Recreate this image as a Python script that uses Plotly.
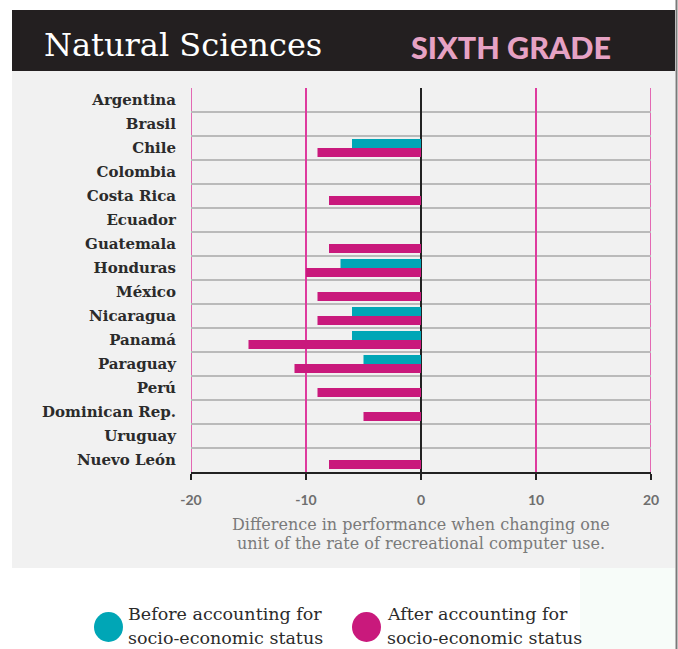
import plotly.graph_objects as go

countries = ["Argentina", "Brasil", "Chile", "Colombia", "Costa Rica", "Ecuador",
             "Guatemala", "Honduras", "México", "Nicaragua", "Panamá", "Paraguay",
             "Perú", "Dominican Rep.", "Uruguay", "Nuevo León"]
before_ses = [None, None, -6, None, None, None, None, -7, None, -6, -6, -5,
              None, None, None, None]
after_ses = [None, None, -9, None, -8, None, -8, -10, -9, -9, -15, -11,
             -9, -5, None, -8]
x_tickvals = [-20, -10, 0, 10, 20]
x_ticktext = ["-20", "-10", "0", "10", "20"]

TEAL = "#00a6b6"
MAGENTA = "#c9197c"
GRIDPINK = "#de3a9e"

# plot area in pixels
L, R, T, B = 191, 651, 88, 472
W, H = 678, 649


def px(x):
    return (x - L) / (R - L)


def py(y):
    return (B - y) / (B - T)


fig = go.Figure()
fig.add_trace(go.Bar(y=countries, x=before_ses, orientation="h",
                     marker=dict(color=TEAL, line=dict(width=0)),
                     name="Before accounting for socio-economic status"))
fig.add_trace(go.Bar(y=countries, x=after_ses, orientation="h",
                     marker=dict(color=MAGENTA, line=dict(width=0)),
                     name="After accounting for socio-economic status"))

shapes = []
# background panels
shapes.append(dict(type="rect", xref="paper", yref="paper", layer="below",
                   x0=px(12), x1=px(675), y0=py(568), y1=py(71),
                   fillcolor="#f1f1f1", line=dict(width=0)))
shapes.append(dict(type="rect", xref="paper", yref="paper", layer="below",
                   x0=px(580), x1=px(675), y0=py(649), y1=py(568),
                   fillcolor="#f7fcf9", line=dict(width=0)))
shapes.append(dict(type="rect", xref="paper", yref="paper", layer="below",
                   x0=px(12), x1=px(675), y0=py(71), y1=py(10),
                   fillcolor="#231f20", line=dict(width=0)))
shapes.append(dict(type="line", xref="paper", yref="paper", layer="above",
                   x0=px(676.5), x1=px(676.5), y0=py(649), y1=py(0),
                   line=dict(color="#7a7a7a", width=2)))
# edge gridlines (plotly skips gridlines at the range ends)
for xv in (x_tickvals[0], x_tickvals[-1]):
    shapes.append(dict(type="line", xref="x", yref="paper", layer="below",
                       x0=xv, x1=xv, y0=0, y1=1,
                       line=dict(color=GRIDPINK, width=1.5)))
# row separators
for i in range(len(countries) - 1):
    shapes.append(dict(type="line", xref="x", yref="y", layer="below",
                       x0=x_tickvals[0], x1=x_tickvals[-1], y0=i + 0.5, y1=i + 0.5,
                       line=dict(color="#bababa", width=2)))
# legend circles
shapes.append(dict(type="circle", xref="paper", yref="paper", layer="above",
                   x0=px(94), x1=px(123), y0=py(642), y1=py(612),
                   fillcolor=TEAL, line=dict(width=0)))
shapes.append(dict(type="circle", xref="paper", yref="paper", layer="above",
                   x0=px(352), x1=px(381), y0=py(642), y1=py(612),
                   fillcolor=MAGENTA, line=dict(width=0)))

annotations = [
    dict(text="Natural Sciences", x=px(42), y=py(45), xref="paper", yref="paper",
         xanchor="left", yanchor="middle", showarrow=False,
         font=dict(family="DejaVu Serif", size=32, color="white")),
    dict(text="SIXTH GRADE", x=px(409), y=py(47), xref="paper", yref="paper",
         xanchor="left", yanchor="middle", showarrow=False,
         font=dict(family="Lato", size=30.5, color="#e6a2c4", weight=900)),
    dict(text="Difference in performance when changing one", x=0.5, y=py(524),
         xref="paper", yref="paper", xanchor="center", yanchor="middle",
         showarrow=False, font=dict(family="DejaVu Serif", size=16, color="#7a7a7a")),
    dict(text="unit of the rate of recreational computer use.", x=0.5, y=py(543),
         xref="paper", yref="paper", xanchor="center", yanchor="middle",
         showarrow=False, font=dict(family="DejaVu Serif", size=16, color="#7a7a7a")),
    dict(text="Before accounting for", x=px(126), y=py(614), xref="paper", yref="paper",
         xanchor="left", yanchor="middle", showarrow=False,
         font=dict(family="DejaVu Serif", size=17.5, color="#2b2b2b")),
    dict(text="socio-economic status", x=px(126), y=py(638), xref="paper", yref="paper",
         xanchor="left", yanchor="middle", showarrow=False,
         font=dict(family="DejaVu Serif", size=17.5, color="#2b2b2b")),
    dict(text="After accounting for", x=px(385), y=py(614), xref="paper", yref="paper",
         xanchor="left", yanchor="middle", showarrow=False,
         font=dict(family="DejaVu Serif", size=17.5, color="#2b2b2b")),
    dict(text="socio-economic status", x=px(385), y=py(638), xref="paper", yref="paper",
         xanchor="left", yanchor="middle", showarrow=False,
         font=dict(family="DejaVu Serif", size=17.5, color="#2b2b2b")),
]

fig.update_layout(
    width=W, height=H, autosize=False,
    margin=dict(l=L, r=W - R, t=T, b=H - B, pad=0),
    paper_bgcolor="white", plot_bgcolor="rgba(0,0,0,0)",
    barmode="group", bargap=0.25, bargroupgap=0,
    showlegend=False,
    shapes=shapes, annotations=annotations,
    xaxis=dict(range=[x_tickvals[0], x_tickvals[-1]], tickvals=x_tickvals,
               ticktext=x_ticktext, showgrid=True, gridcolor=GRIDPINK, gridwidth=1.5,
               zeroline=True, zerolinecolor="#222222", zerolinewidth=1.5,
               showline=True, linecolor="#222222", linewidth=1.5,
               ticks="outside", ticklen=6, tickwidth=1.5, tickcolor="#222222",
               ticklabelstandoff=8,
               tickfont=dict(family="Lato", size=14, color="#6e6e6e", weight="bold")),
    yaxis=dict(autorange="reversed", showgrid=False, zeroline=False, showline=False,
               ticks="", ticklabelstandoff=14,
               tickfont=dict(family="DejaVu Serif", size=15, color="#2b2b2b",
                             weight="bold")),
)

fig.write_html("out.html", config={"displayModeBar": False},
               post_script="document.body.style.margin='0';document.body.style.overflow='hidden';")
